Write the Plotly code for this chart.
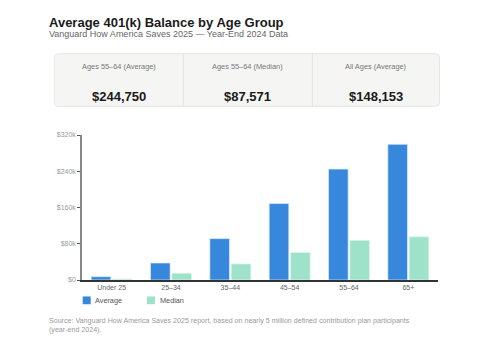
import plotly.graph_objects as go

# ---- data ----
categories = ["Under 25", "25–34", "35–44", "45–54", "55–64", "65+"]
average = [7351, 37557, 91281, 168646, 244750, 299442]
median = [1948, 14933, 35537, 60763, 87571, 95425]
y_tick_vals = [0, 80000, 160000, 240000, 320000]
y_tick_text = ["$0", "$80k", "$160k", "$240k", "$320k"]
kpi_labels = ["Ages 55–64 (Average)", "Ages 55–64 (Median)", "All Ages (Average)"]
kpi_values = ["$244,750", "$87,571", "$148,153"]

W, H = 493, 345
L, R, T, B = 82, 438, 134.7, 280
FONT = "Liberation Sans, Arial, sans-serif"
AVG_C = "#3787dc"
MED_C = "#9fe2ca"


def fx(p):
    return (p - L) / (R - L)


def fy(p):
    return (B - p) / (B - T)


fig = go.Figure()
fig.add_bar(x=categories, y=average, name="Average", marker=dict(color=AVG_C, line=dict(color="rgba(220,235,250,0.9)", width=0.8)))
fig.add_bar(x=categories, y=median, name="Median", marker=dict(color=MED_C, line=dict(color="rgba(225,245,238,0.9)", width=0.8)))

shapes = []
annotations = []

# title & subtitle
annotations.append(dict(x=fx(47), y=fy(22.3), xref="paper", yref="paper", xanchor="left", yanchor="middle",
                        text="<b>Average 401(k) Balance by Age Group</b>", showarrow=False,
                        font=dict(family=FONT, size=13, color="#1a1a1a")))
annotations.append(dict(x=fx(47), y=fy(33), xref="paper", yref="paper", xanchor="left", yanchor="middle",
                        text="Vanguard How America Saves 2025 — Year-End 2024 Data", showarrow=False,
                        font=dict(family=FONT, size=9, color="#666666")))

# KPI card
cx0, cx1, cy0, cy1, rad = 54.3, 439.5, 53.3, 106, 4
rx = rad / (R - L)
ry = rad / (B - T)
X0, X1, Y0, Y1 = fx(cx0), fx(cx1), fy(cy1), fy(cy0)
path = (f"M {X0+rx},{Y0} L {X1-rx},{Y0} Q {X1},{Y0} {X1},{Y0+ry} L {X1},{Y1-ry} Q {X1},{Y1} {X1-rx},{Y1} "
        f"L {X0+rx},{Y1} Q {X0},{Y1} {X0},{Y1-ry} L {X0},{Y0+ry} Q {X0},{Y0} {X0+rx},{Y0} Z")
shapes.append(dict(type="path", path=path, xref="paper", yref="paper", fillcolor="#f5f5f4",
                   line=dict(color="#e6e6e4", width=1), layer="below"))
for dx in [183.3, 312.3]:
    shapes.append(dict(type="line", xref="paper", yref="paper", x0=fx(dx), x1=fx(dx), y0=Y0, y1=Y1,
                       line=dict(color="#e3e3e1", width=1)))
centers = [118.8, 247.8, 375.9]
for c, lab, val in zip(centers, kpi_labels, kpi_values):
    annotations.append(dict(x=fx(c), y=fy(66), xref="paper", yref="paper", xanchor="center", yanchor="middle",
                            text=lab, showarrow=False, font=dict(family=FONT, size=7.4, color="#777777")))
    annotations.append(dict(x=fx(c), y=fy(96), xref="paper", yref="paper", xanchor="center", yanchor="middle",
                            text=f"<b>{val}</b>", showarrow=False, font=dict(family=FONT, size=13, color="#1a1a1a")))

# manual legend
for (x0, col, name) in [(82.7, AVG_C, "Average"), (147, MED_C, "Median")]:
    shapes.append(dict(type="rect", xref="paper", yref="paper", x0=fx(x0), x1=fx(x0 + 8), y0=fy(304.3), y1=fy(296.5),
                       fillcolor=col, line=dict(width=0)))
    annotations.append(dict(x=fx(x0 + 10.5), y=fy(300.5), xref="paper", yref="paper", xanchor="left", yanchor="middle",
                            text=name, showarrow=False, font=dict(family=FONT, size=7.3, color="#555555")))

# source
annotations.append(dict(x=fx(47), y=fy(326), xref="paper", yref="paper", xanchor="left", yanchor="middle", align="left",
                        text="Source: Vanguard How America Saves 2025 report, based on nearly 5 million defined contribution plan participants<br>(year-end 2024).",
                        showarrow=False, font=dict(family=FONT, size=7.1, color="#9a9a9a")))

fig.update_layout(
    width=W, height=H,
    margin=dict(l=L, r=W - R, t=T, b=H - B, pad=0),
    paper_bgcolor="white", plot_bgcolor="white",
    barmode="group", bargap=0.28, bargroupgap=0.08,
    showlegend=False,
    shapes=shapes, annotations=annotations,
    font=dict(family=FONT),
)
fig.update_xaxes(showline=True, linecolor="#333333", linewidth=1.5, ticks="", showgrid=False,
                 tickfont=dict(family=FONT, size=7, color="#666666"), fixedrange=True)
fig.update_yaxes(range=[0, 320000], tickvals=y_tick_vals, ticktext=y_tick_text, showline=True,
                 linecolor="#888888", linewidth=1.5, ticks="outside", ticklen=3, tickcolor="#555555",
                 showgrid=False, zeroline=False, tickfont=dict(family=FONT, size=7, color="#9a9a9a"), fixedrange=True)

fig.write_html("out.html")
